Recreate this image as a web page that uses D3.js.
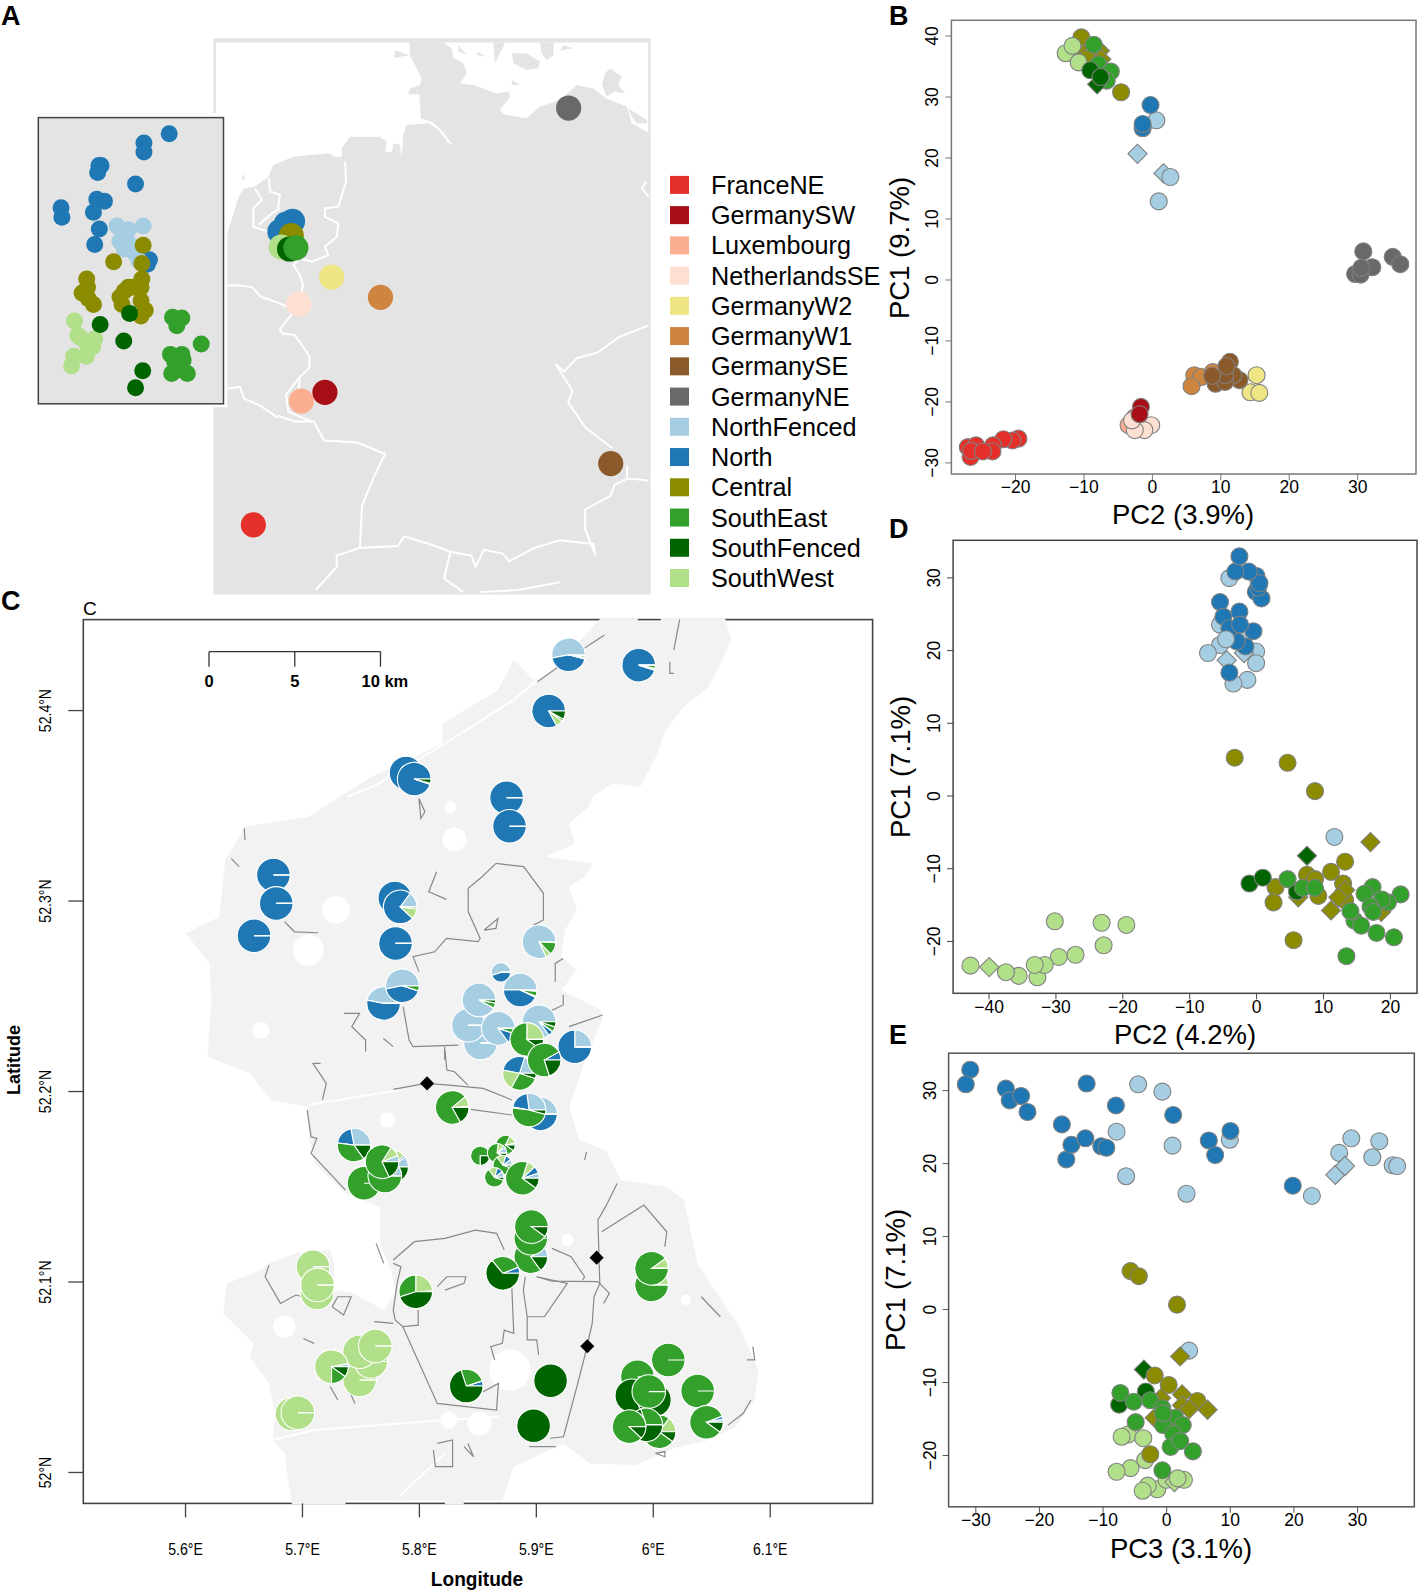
<!DOCTYPE html>
<html>
<head>
<meta charset="utf-8">
<script src="https://cdn.jsdelivr.net/npm/d3@7"></script>
<style>
  body { margin: 0; background: #fff; }
  text { font-family: "Liberation Sans", Arial, sans-serif; fill: #000; }
</style>
</head>
<body>
<svg id="fig" width="1418" height="1593"></svg>
<script>
const groups = ['FranceNE', 'GermanySW', 'Luxembourg', 'NetherlandsSE', 'GermanyW2', 'GermanyW1', 'GermanySE', 'GermanyNE', 'NorthFenced', 'North', 'Central', 'SouthEast', 'SouthFenced', 'SouthWest'];
const groupColors = ['#e5302a', '#a50f15', '#fcae91', '#fee0d2', '#eee685', '#cd853f', '#8b5a2b', '#696969', '#a6cee3', '#1f78b4', '#8b8b00', '#33a02c', '#006400', '#b2df8a'];

// PCA panels: [group, x, y], a 4th item 'd' means diamond
const pcaB = [
  ['FranceNE', -19.5, -26.1], ['FranceNE', -20.4, -26.4], ['FranceNE', -21.7, -26.2], ['FranceNE', -23.2, -27.2], ['FranceNE', -23.3, -28.2], ['FranceNE', -26.9, -27.5], ['FranceNE', -25.7, -27.2], ['FranceNE', -26.5, -29.1], ['FranceNE', -26.4, -28.1], ['FranceNE', -24.7, -28.2],
  ['Luxembourg', -3.4, -23.9], ['Luxembourg', -2.5, -22.6],
  ['NetherlandsSE', -0.1, -23.9], ['NetherlandsSE', -1.1, -24.7], ['NetherlandsSE', -2.5, -24.7], ['NetherlandsSE', -2.9, -23.1],
  ['GermanySW', -1.6, -20.9], ['GermanySW', -1.8, -22.1],
  ['GermanyW2', 15.3, -15.7], ['GermanyW2', 14.4, -18.5], ['GermanyW2', 15.7, -18.6],
  ['GermanyW1', 6.2, -15.7], ['GermanyW1', 7.2, -16], ['GermanyW1', 5.8, -17.5], ['GermanyW1', 8.9, -15.2],
  ['GermanySE', 11.4, -13.5], ['GermanySE', 12.8, -16.5], ['GermanySE', 11.9, -15.7], ['GermanySE', 9.3, -17.1], ['GermanySE', 10.7, -16.8], ['GermanySE', 10.7, -15.7], ['GermanySE', 8.8, -15.8], ['GermanySE', 10.9, -14.2],
  ['GermanyNE', 30.9, 4.6], ['GermanyNE', 32.2, 2], ['GermanyNE', 29.7, 0.9], ['GermanyNE', 30.5, 0.8], ['GermanyNE', 30.6, 1.9], ['GermanyNE', 35.2, 3.7], ['GermanyNE', 36.3, 2.5],
  ['NorthFenced', 0.65, 26.1], ['NorthFenced', 1, 12.8], ['NorthFenced', -2.1, 20.6, 'd'], ['NorthFenced', 1.7, 17.4, 'd'], ['NorthFenced', 2.7, 16.8],
  ['North', -0.2, 28.6], ['North', -1.35, 24.8], ['North', -1.35, 25.5],
  ['Central', -10.3, 39.7], ['Central', -4.5, 30.7], ['Central', -7.6, 37.5, 'd'], ['Central', -7.4, 36.1, 'd'], ['Central', -9.9, 37, 'd'], ['Central', -9.5, 36.2],
  ['SouthWest', -12.6, 37.1], ['SouthWest', -10.7, 35.6], ['SouthWest', -11.6, 38.3],
  ['SouthEast', -8.5, 38.5], ['SouthEast', -7.8, 35.3], ['SouthEast', -6, 34.1], ['SouthEast', -6.6, 32.6],
  ['SouthFenced', -8, 32, 'd'], ['SouthFenced', -9, 34.3], ['SouthFenced', -7.5, 33.2]
];
const pcaD = [
  ['NorthFenced', -4, 29.9], ['NorthFenced', -5.4, 23.5], ['NorthFenced', -1.6, 22.3], ['NorthFenced', -5.4, 20.7], ['NorthFenced', -7.2, 19.6], ['NorthFenced', 0, 19.8], ['NorthFenced', 0, 18.2], ['NorthFenced', -1.3, 15.9], ['NorthFenced', -3.4, 15.4], ['NorthFenced', 11.7, -5.7], ['NorthFenced', -4.4, 18.6, 'd'], ['NorthFenced', -1.8, 19.6, 'd'],
  ['North', 0.05, 30.2], ['North', -0.05, 28], ['North', 0.8, 27.1], ['North', 0.3, 28.6], ['North', 0.5, 29.2], ['North', -1.1, 30.8], ['North', -3.1, 30.8], ['North', -2.5, 32.9], ['North', -5.4, 26.6], ['North', -2.5, 25.3], ['North', -4.9, 24.6], ['North', -0.4, 22.6], ['North', -1.6, 20.5], ['North', -2.9, 21.2], ['North', -4, 23], ['North', -2.4, 23.5], ['North', -4, 16.9],
  ['NorthFenced', -4.5, 21.5],
  ['Central', -3.2, 5.2], ['Central', 4.7, 4.5], ['Central', 8.8, 0.6], ['Central', 17.1, -6.4, 'd'], ['Central', 13.3, -9.1], ['Central', 11.2, -10.5], ['Central', 7.6, -10.9], ['Central', 8.8, -11.5], ['Central', 13, -12.1], ['Central', 2.9, -12.6], ['Central', 2.6, -14.7], ['Central', 9.3, -13.8], ['Central', 13.3, -14.4], ['Central', 5.6, -19.9], ['Central', 13.3, -13, 'd'], ['Central', 12.3, -14, 'd'], ['Central', 11.2, -15.8, 'd'], ['Central', 6.3, -14, 'd'], ['Central', 18.7, -16, 'd'],
  ['SouthFenced', 7.6, -8.3, 'd'], ['SouthFenced', -1, -12.1], ['SouthFenced', 1, -11.3], ['SouthFenced', 6.1, -13.2],
  ['SouthEast', 4.7, -11.5], ['SouthEast', 7, -12.7], ['SouthEast', 8.8, -12.7], ['SouthEast', 17.4, -12.6], ['SouthEast', 21.6, -13.6], ['SouthEast', 19.7, -14.7], ['SouthEast', 16.2, -13.5], ['SouthEast', 18.8, -14.3], ['SouthEast', 17.1, -15.3], ['SouthEast', 17.5, -16], ['SouthEast', 14.7, -17.2], ['SouthEast', 14.1, -15.9], ['SouthEast', 15.7, -17.9], ['SouthEast', 18, -18.9], ['SouthEast', 20.6, -19.5], ['SouthEast', 13.5, -22.1],
  ['SouthWest', -30.1, -17.3], ['SouthWest', -23.1, -17.5], ['SouthWest', -19.4, -17.8], ['SouthWest', -22.8, -20.6], ['SouthWest', -27, -21.9], ['SouthWest', -29.5, -22.2], ['SouthWest', -32.7, -25], ['SouthWest', -31.6, -23.3], ['SouthWest', -33.1, -23.3], ['SouthWest', -42.7, -23.4], ['SouthWest', -39.9, -23.6, 'd'], ['SouthWest', -35.5, -24.8], ['SouthWest', -37.4, -24.3]
];
const pcaE = [
  ['North', -30.8, 32.8], ['North', -31.5, 30.8], ['North', -25.2, 30.2], ['North', -24.6, 28.6], ['North', -22.8, 29.2], ['North', -21.8, 27], ['North', -16.4, 25.3], ['North', -12.5, 30.9], ['North', -7.9, 27.9], ['North', 1.1, 26.6], ['North', -15.7, 20.5], ['North', -14.9, 22.5], ['North', -12.7, 23.4], ['North', -10.2, 22.3], ['North', -9.4, 22.1],
  ['NorthFenced', 10, 23.2],
  ['North', 6.7, 23.1], ['North', 7.7, 21.1], ['North', 10.1, 24.4], ['North', 19.9, 16.9],
  ['NorthFenced', -4.4, 30.8], ['NorthFenced', -0.6, 29.8], ['NorthFenced', -7.8, 24.3], ['NorthFenced', 1, 22.4], ['NorthFenced', -6.3, 18.2], ['NorthFenced', 3.2, 15.8], ['NorthFenced', 22.9, 15.5], ['NorthFenced', 27.2, 21.4], ['NorthFenced', 29.1, 23.4], ['NorthFenced', 33.5, 23], ['NorthFenced', 32.4, 20.8], ['NorthFenced', 35.6, 19.7], ['NorthFenced', 36.3, 19.6], ['NorthFenced', 3.6, -5.7], ['NorthFenced', 26.6, 18.4, 'd'], ['NorthFenced', 28.1, 19.6, 'd'],
  ['SouthFenced', -3.5, -8.3, 'd'],
  ['Central', -5.6, 5.2], ['Central', -4.3, 4.5], ['Central', 1.7, 0.6], ['Central', 2.2, -6.5, 'd'], ['Central', 2.5, -11.7, 'd'], ['Central', 4.9, -12.6], ['Central', 6.5, -13.8, 'd'], ['Central', 2.5, -13.2, 'd'], ['Central', 3.6, -13.7, 'd'], ['Central', -0.8, -12.2, 'd'], ['Central', -1.8, -14.9, 'd'], ['Central', -1.8, -9.1], ['Central', 0.4, -10.4],
  ['SouthFenced', -7.4, -13.1], ['SouthFenced', -3.2, -11.3],
  ['SouthWest', -6, -17.2], ['SouthWest', -7, -17.5], ['SouthWest', -3.6, -17.7], ['SouthWest', -3.3, -20.7], ['SouthWest', -5.6, -21.8], ['SouthWest', -7.8, -22.3], ['SouthWest', -1.4, -24.7], ['SouthWest', -2.9, -24.2], ['SouthWest', -3.7, -24.9], ['SouthWest', 0.05, -23.4], ['SouthWest', 2.8, -23.4], ['SouthWest', 1.3, -23.7, 'd'],
  ['SouthEast', -7.2, -11.5], ['SouthEast', -5.1, -12.7], ['SouthEast', -2.5, -12.5], ['SouthEast', -0.6, -13.6], ['SouthEast', 1.4, -14.9], ['SouthEast', -0.5, -15.9], ['SouthEast', 2.6, -15.9], ['SouthEast', -0.5, -14.3], ['SouthEast', -4.8, -15.5], ['SouthEast', 1.1, -17.1], ['SouthEast', 0.7, -18.9], ['SouthEast', 2.2, -18.1], ['SouthEast', 4.2, -19.5], ['SouthEast', -0.6, -22.1],
  ['SouthWest', 1.8, -23.2],
  ['Central', -2.5, -19.9]
];

// panel A (traced units)
const europeSites = [
  ['North', 665, 605], ['North', 680, 585], ['North', 695, 578], ['Central', 692, 615], ['SouthWest', 668, 645], ['SouthFenced', 688, 650], ['SouthEast', 703, 647],
  ['GermanyNE', 1351, 282], ['GermanyW2', 788, 723], ['GermanyW1', 904, 776], ['NetherlandsSE', 710, 794], ['GermanySW', 772, 1024], ['Luxembourg', 716, 1047], ['FranceNE', 602, 1370], ['GermanySE', 1451, 1210]
];
const insetSites = [
  ['North', 402, 349], ['North', 342, 373], ['North', 342, 397], ['North', 235, 432], ['North', 240, 432], ['North', 232, 450], ['North', 322, 480], ['North', 230, 520], ['North', 248, 525], ['North', 222, 554], ['North', 145, 542], ['North', 147, 567], ['North', 236, 598], ['North', 225, 638], ['North', 355, 678], ['North', 350, 690],
  ['NorthFenced', 278, 590], ['NorthFenced', 340, 590], ['NorthFenced', 300, 610], ['NorthFenced', 285, 630], ['NorthFenced', 310, 640], ['NorthFenced', 295, 650], ['NorthFenced', 320, 660], ['NorthFenced', 330, 680], ['NorthFenced', 305, 600],
  ['Central', 340, 640], ['Central', 270, 683], ['Central', 337, 688], ['Central', 337, 728], ['Central', 206, 728], ['Central', 208, 750], ['Central', 195, 765], ['Central', 210, 780], ['Central', 222, 795], ['Central', 335, 750], ['Central', 305, 750], ['Central', 285, 775], ['Central', 290, 795], ['Central', 315, 750], ['Central', 335, 785], ['Central', 345, 810], ['Central', 335, 825], ['Central', 295, 760],
  ['SouthWest', 177, 838], ['SouthWest', 185, 875], ['SouthWest', 225, 885], ['SouthWest', 205, 895], ['SouthWest', 220, 905], ['SouthWest', 205, 930], ['SouthWest', 175, 930], ['SouthWest', 170, 955], ['SouthWest', 190, 880],
  ['SouthEast', 410, 828], ['SouthEast', 432, 830], ['SouthEast', 420, 850], ['SouthEast', 478, 898], ['SouthEast', 405, 925], ['SouthEast', 432, 925], ['SouthEast', 415, 945], ['SouthEast', 408, 975], ['SouthEast', 445, 975], ['SouthEast', 425, 965], ['SouthEast', 435, 940],
  ['SouthFenced', 308, 818], ['SouthFenced', 238, 847], ['SouthFenced', 294, 890], ['SouthFenced', 339, 968], ['SouthFenced', 322, 1012]
];
const seaNorth = [[513, 111], [973, 111], [974, 144], [1002, 205], [998, 222], [973, 232], [970, 246], [996, 246], [1000, 309], [1026, 318], [1045, 335], [1073, 374], [1087, 379], [1065, 374], [1042, 339], [1018, 322], [966, 326], [958, 352], [954, 413], [950, 378], [935, 374], [931, 396], [915, 396], [919, 370], [903, 357], [832, 357], [812, 387], [812, 409], [796, 409], [780, 400], [697, 409], [649, 431], [638, 461], [606, 487], [578, 492], [566, 518], [539, 613], [513, 613]];
const seaBaltic = [[1053, 111], [1540, 111], [1540, 346], [1501, 322], [1489, 278], [1441, 257], [1410, 231], [1370, 222], [1331, 261], [1283, 278], [1251, 309], [1196, 298], [1188, 287], [1212, 252], [1208, 239], [1180, 244], [1125, 222], [1093, 218], [1109, 191], [1101, 165], [1077, 151], [1073, 126]];
const seaIslands = [
  [[1216, 139], [1251, 139], [1283, 161], [1279, 178], [1251, 183], [1220, 165]],
  [[1283, 111], [1315, 111], [1315, 144], [1299, 157], [1287, 139]],
  [[1172, 111], [1200, 111], [1176, 165]],
  [[1089, 118], [1109, 142], [1089, 135]],
  [[1133, 135], [1156, 148], [1133, 144]],
  [[1331, 131], [1362, 126], [1339, 118]],
  [[1449, 178], [1477, 200], [1469, 222], [1485, 244], [1461, 239], [1441, 252], [1430, 222], [1438, 191]],
  [[1493, 283], [1537, 313], [1537, 322], [1513, 322], [1501, 305]],
  [[1216, 209], [1236, 222], [1216, 222]],
  [[939, 131], [973, 144], [936, 151]],
  [[574, 465], [585, 452], [578, 472]]
];
const borders = [
  [[820, 422], [822, 474], [804, 539], [772, 544], [772, 566], [804, 583], [800, 618], [772, 644], [780, 666], [741, 683], [713, 674], [697, 692], [713, 718], [720, 745], [715, 770], [700, 810], [665, 860], [670, 870], [700, 875], [720, 905], [735, 930], [735, 960], [712, 985], [710, 1020]],
  [[712, 985], [680, 1030], [685, 1075], [740, 1100]],
  [[660, 1085], [700, 1100], [745, 1100], [770, 1150], [850, 1155], [915, 1185], [890, 1240], [860, 1320], [855, 1430], [945, 1425], [960, 1400], [1020, 1420], [1070, 1440], [1120, 1450], [1130, 1480], [1150, 1435], [1195, 1445], [1210, 1465], [1270, 1430], [1330, 1410], [1410, 1420], [1415, 1450], [1390, 1380], [1390, 1330], [1450, 1295], [1460, 1265], [1490, 1250], [1510, 1250], [1540, 1255]],
  [[1455, 1170], [1390, 1115], [1350, 1050], [1360, 1020], [1320, 950], [1340, 970], [1370, 935], [1420, 920], [1470, 880], [1540, 850]],
  [[540, 745], [570, 745], [600, 750], [620, 775], [660, 790], [680, 800]],
  [[540, 1015], [570, 1010], [580, 1040], [620, 1060], [660, 1090]],
  [[855, 1430], [800, 1450], [800, 1480], [750, 1540]],
  [[1070, 1440], [1055, 1510], [1100, 1545]],
  [[1140, 1545], [1230, 1540], [1330, 1520]],
  [[1536, 474], [1525, 492], [1541, 513]],
  [[638, 465], [642, 500], [665, 509], [661, 544]],
  [[606, 492], [622, 522], [602, 544], [602, 592], [638, 605]],
  [[614, 587], [646, 557], [665, 544]],
  [[1490, 1215], [1490, 1250]]
];

// panel C pies: lon, lat, sample size, shares NorthFenced/North/SouthWest/SouthEast/SouthFenced
const pieClusters = ['NorthFenced', 'North', 'SouthWest', 'SouthEast', 'SouthFenced'];
const pieSites = [
  [5.928, 52.429, 3, [.53, .43, .01, .02, .01]], [5.988, 52.4236, 3, [0, .95, .02, .03, 0]], [5.911, 52.3995, 3, [0, .83, .07, .02, .08]],
  [5.789, 52.367, 3, [0, 1, 0, 0, 0]], [5.796, 52.3638, 3, [0, .95, 0, .01, .04]], [5.875, 52.354, 3, [0, 1, 0, 0, 0]], [5.8775, 52.339, 3, [0, 1, 0, 0, 0]],
  [5.6756, 52.3134, 3, [0, 1, 0, 0, 0]], [5.678, 52.2985, 3, [0, 1, 0, 0, 0]], [5.659, 52.2815, 3, [0, 1, 0, 0, 0]],
  [5.7794, 52.3013, 3, [0, 1, 0, 0, 0]], [5.784, 52.2967, 3, [.15, .73, .1, .02, 0]], [5.78, 52.2775, 3, [0, 1, 0, 0, 0]],
  [5.9028, 52.2784, 3, [.82, 0, .05, .12, .01]], [5.8702, 52.2623, 1, [.55, .45, 0, 0, 0]],
  [5.7698, 52.246, 3, [.47, .53, 0, 0, 0]], [5.7859, 52.2553, 3, [.53, .42, 0, .05, 0]],
  [5.8527, 52.2252, 3, [1, 0, 0, 0, 0]], [5.8423, 52.2345, 3, [1, 0, 0, 0, 0]], [5.8514, 52.2478, 3, [.92, 0, 0, .05, .03]], [5.8867, 52.253, 3, [.5, .43, .01, .05, .01]],
  [5.8679, 52.2329, 3, [.85, .1, 0, .05, 0]], [5.9028, 52.2364, 3, [.85, .05, 0, .05, .05]], [5.9333, 52.2232, 3, [.25, .75, 0, 0, 0]],
  [5.886, 52.2093, 3, [.2, .27, .2, .28, .05]], [5.8923, 52.2271, 3, [0, 0, .25, .65, .1]], [5.9072, 52.2163, 3, [0, .08, 0, .72, .2]],
  [5.8285, 52.1914, 3, [.01, 0, .1, .72, .17]], [5.904, 52.188, 3, [.5, .5, 0, 0, 0]], [5.8942, 52.19, 3, [.27, .2, .01, .48, .04]],
  [5.7445, 52.1716, 3, [.28, .2, 0, .37, .15]], [5.7531, 52.1516, 3, [0, 0, 0, 1, 0]], [5.7767, 52.1602, 3, [.1, .02, .1, .63, .15]], [5.7709, 52.1554, 3, [.1, .02, 0, .88, 0]], [5.7685, 52.1629, 3, [.06, 0, .1, .66, .18]],
  [5.8525, 52.166, 1, [0, 0, 0, .75, .25]], [5.8741, 52.1717, 1, [0, .03, .15, .72, .1]], [5.8668, 52.1674, 1, [.1, .03, .1, .7, .07]], [5.8717, 52.1611, 1, [.1, .1, .15, .6, .05]], [5.8645, 52.1547, 1, [.1, .1, .15, .6, .05]],
  [5.8885, 52.1542, 3, [.05, .07, .08, .7, .1]],
  [5.8957, 52.113, 3, [.1, 0, 0, .75, .15]], [5.8957, 52.1227, 3, [0, 0, 0, 1, 0]], [5.8962, 52.1288, 3, [0, 0, 0, .9, .1]],
  [5.8717, 52.1043, 3, [0, .06, 0, .3, .64]], [5.7973, 52.0946, 3, [.01, 0, .24, .3, .45]],
  [5.7094, 52.1078, 3, [0, 0, 1, 0, 0]], [5.713, 52.094, 3, [0, 0, 1, 0, 0]], [5.7133, 52.0982, 3, [0, 0, 1, 0, 0]],
  [5.999, 52.0982, 3, [0, 0, .1, .9, 0]], [5.999, 52.1069, 3, [0, 0, .1, .9, 0]],
  [6.0133, 52.0588, 3, [0, 0, 0, 1, 0]], [6.0384, 52.0425, 3, [0, 0, 0, 1, 0]], [6.046, 52.0261, 3, [.03, .03, 0, .84, .1]],
  [5.7493, 52.0483, 3, [0, 0, 1, 0, 0]], [5.7589, 52.058, 3, [0, 0, 1, 0, 0]], [5.7493, 52.0631, 3, [0, 0, 1, 0, 0]], [5.7627, 52.0661, 3, [0, 0, 1, 0, 0]], [5.7253, 52.0553, 3, [.03, 0, .72, .15, .1]],
  [5.6915, 52.0304, 3, [0, 0, 1, 0, 0]], [5.6965, 52.0311, 3, [0, 0, 1, 0, 0]],
  [5.8405, 52.0451, 3, [0, .05, 0, .25, .7]], [5.9126, 52.0479, 3, [0, 0, 0, 0, 1]], [5.8981, 52.0243, 3, [0, 0, 0, 0, 1]],
  [5.9869, 52.05, 3, [0, 0, 0, 1, 0]], [5.9821, 52.04, 3, [0, 0, 0, 0, 1]], [6.0014, 52.0378, 3, [0, 0, 0, 0, 1]], [5.9966, 52.0422, 3, [0, 0, 0, 1, 0]],
  [6.0055, 52.0211, 3, [0, 0, .15, .75, .1]], [5.9941, 52.0247, 3, [0, 0, 0, .3, .7]], [5.9798, 52.0238, 3, [0, 0, 0, .88, .12]]
];
const blackMarkers = [[5.807, 52.204], [5.952, 52.1125], [5.944, 52.066]];
const lonTicks = [5.6, 5.7, 5.8, 5.9, 6, 6.1];
const latTicks = [52, 52.1, 52.2, 52.3, 52.4];
const scaleBarKm = [0, 5, 10];

const landOutline = [
  [5.9555, 52.4482], [5.9873, 52.4482], [5.9873, 52.4462], [6.0069, 52.4462], [6.0069, 52.4482], [6.0619, 52.4482], [6.067, 52.4368], [6.0569, 52.4228], [6.0467, 52.4114], [6.0264, 52.4018], [6.0095, 52.3878], [6.0028, 52.3755], [5.9893, 52.3598], [5.9656, 52.3615], [5.9487, 52.3545], [5.9453, 52.3493], [5.9284, 52.3405], [5.9335, 52.33], [5.9081, 52.323], [5.9487, 52.3195], [5.942, 52.3125], [5.9284, 52.3073], [5.9352, 52.295], [5.925, 52.2845], [5.9217, 52.2705], [5.9352, 52.2635], [5.9217, 52.253], [5.9555, 52.2425], [5.9572, 52.2382],
  [5.9433, 52.218], [5.9286, 52.1918], [5.9368, 52.1743], [5.9596, 52.169], [5.9727, 52.1533], [6.012, 52.1498], [6.0267, 52.1428], [6.0382, 52.1095], [6.0741, 52.0763], [6.0905, 52.0535], [6.0872, 52.0378], [6.0709, 52.0238], [6.048, 52.0168], [6.0185, 52.0124], [5.9858, 52.0037], [5.9466, 52.0045], [5.9237, 52.015], [5.8811, 52.0028], [5.8713, 51.985], [5.8384, 51.985], [5.8384, 51.983], [5.8223, 51.983], [5.8223, 51.985], [5.7372, 51.985], [5.7372, 51.983], [5.6914, 51.983],
  [5.6849, 52.0098], [5.675, 52.0168], [5.6767, 52.0308], [5.6718, 52.0465], [5.6554, 52.0605], [5.6587, 52.0675], [5.6325, 52.0833], [5.6358, 52.099], [5.6652, 52.106], [5.6718, 52.1095], [5.6947, 52.1148], [5.7241, 52.1165], [5.7274, 52.1095], [5.7274, 52.0955], [5.7437, 52.0938], [5.7699, 52.085], [5.7797, 52.0938], [5.7765, 52.106], [5.7666, 52.12], [5.7666, 52.1393], [5.7372, 52.1463], [5.711, 52.162], [5.7061, 52.176], [5.7045, 52.1918], [5.6734, 52.1953], [5.6554, 52.2093],
  [5.6192, 52.218], [5.6226, 52.2478], [5.6209, 52.267], [5.6006, 52.2828], [5.6293, 52.2915], [5.6344, 52.3213], [5.6513, 52.3388], [5.7054, 52.344], [5.7595, 52.365], [5.8203, 52.3825], [5.8203, 52.393], [5.8676, 52.4105], [5.8811, 52.4263], [5.898, 52.4158], [5.915, 52.421]
];
// gaps in the land layer: lon, lat, radius in km
const landGaps = [[5.8779, 52.0535, 1.2], [5.8517, 52.0255, .7], [5.8255, 52.0273, .5], [5.927, 52.1218, .35], [5.7732, 52.1848, .45], [5.6849, 52.0763, .65], [6.0283, 52.0903, .3], [5.8304, 52.332, .7], [5.729, 52.295, .8], [5.7054, 52.274, .9], [5.8271, 52.349, .35], [5.6648, 52.232, .5]];
const landTracks = [
  [[5.7045, 52.1926], [5.783, 52.2005]],
  [[5.675, 52.0168], [5.711, 52.022], [5.8223, 52.0273], [5.868, 52.029]],
  [[5.783, 51.987], [5.8223, 52.0098]],
  [[5.7392, 52.3545], [5.7662, 52.3615], [5.827, 52.3843], [5.881, 52.4053], [5.908, 52.4193]]
];
const roads = [
  [[5.7781, 52.2009], [5.8059, 52.204], [5.8255, 52.2031], [5.855, 52.2014], [5.8795, 52.1953]],
  [[5.8223, 52.2215], [5.8239, 52.211], [5.8304, 52.2101], [5.8419, 52.2031]],
  [[5.8445, 52.1904], [5.8795, 52.1874]],
  [[5.7045, 52.19], [5.7078, 52.176], [5.7127, 52.1751], [5.7078, 52.1673], [5.7372, 52.148]],
  [[5.7781, 52.1113], [5.7961, 52.1209], [5.8223, 52.1226], [5.8484, 52.127], [5.8664, 52.1253], [5.873, 52.1165]],
  [[5.7781, 52.1095], [5.7846, 52.1078], [5.7814, 52.099], [5.7781, 52.085], [5.7797, 52.0798], [5.7863, 52.0763], [5.7994, 52.0771], [5.7994, 52.085]],
  [[5.7863, 52.0763], [5.8157, 52.036], [5.8664, 52.0325], [5.868, 52.0465], [5.855, 52.0421]],
  [[5.8795, 52.0964], [5.8811, 52.0728], [5.873, 52.0745], [5.8713, 52.0675], [5.8615, 52.0658], [5.8648, 52.0588]],
  [[5.891, 52.1025], [5.8893, 52.0955], [5.8926, 52.0815], [5.8926, 52.0693], [5.9008, 52.0693], [5.9024, 52.0614]],
  [[5.8926, 52.0815], [5.9073, 52.0815], [5.9269, 52.099], [5.9008, 52.1025]],
  [[5.9008, 52.1025], [5.9138, 52.1002], [5.9531, 52.0999]],
  [[5.9138, 52.1174], [5.9302, 52.113], [5.9417, 52.1025], [5.94, 52.1008]],
  [[5.9695, 52.1515], [5.9597, 52.1393], [5.9531, 52.1323], [5.9547, 52.099], [5.9498, 52.092], [5.9482, 52.078], [5.9417, 52.0605], [5.9351, 52.0448], [5.9237, 52.0185], [5.9122, 52.0177]],
  [[5.9564, 52.1261], [5.9924, 52.1401], [6.012, 52.1261], [6.0103, 52.1183]],
  [[5.9531, 52.0999], [5.9629, 52.0938], [5.958, 52.0885]],
  [[5.6718, 52.1086], [5.6685, 52.1025], [5.6816, 52.0885], [5.6947, 52.0929], [5.7012, 52.092]],
  [[5.7258, 52.0868], [5.7307, 52.092], [5.7421, 52.092], [5.7356, 52.0824], [5.7258, 52.0868]],
  [[5.7617, 52.0789], [5.7781, 52.078]],
  [[5.8157, 52.0973], [5.8239, 52.1025], [5.8402, 52.1025], [5.8386, 52.099], [5.8223, 52.0955]],
  [[6.0414, 52.092], [6.0578, 52.0815]],
  [[5.7634, 52.12], [5.7699, 52.1095]],
  [[5.7241, 52.0448], [5.7307, 52.0378]],
  [[5.7388, 52.0448], [5.7454, 52.036]],
  [[6.0856, 52.0658], [6.0872, 52.0588], [6.0807, 52.0588]],
  [[6.0839, 52.0378], [6.0774, 52.0308], [6.0643, 52.0246]],
  [[5.8124, 52.0115], [5.8141, 52.0028], [5.8288, 52.0028], [5.8288, 52.0168], [5.8157, 52.015]],
  [[5.8386, 52.0133], [5.8468, 52.008], [5.8419, 52.015]],
  [[5.8942, 52.0133], [5.9171, 52.0133]],
  [[6.0022, 52.0098], [6.0104, 52.0107], [6.0104, 52.008], [6.0022, 52.0098]],
  [[5.7012, 52.0701], [5.7104, 52.0675]],
  [[5.7159, 52.2145], [5.7094, 52.2145], [5.7208, 52.204], [5.7175, 52.1953]],
  [[5.9417, 52.1638], [5.9433, 52.1681]],
  [[6.023, 52.4476], [6.018, 52.4315]],
  [[6.0146, 52.4254], [6.0146, 52.4193], [6.018, 52.4193]],
  [[5.9588, 52.4394], [5.9453, 52.4341], [5.9014, 52.4149]],
  [[5.8, 52.3536], [5.8017, 52.3431], [5.8051, 52.3466], [5.8, 52.3536]],
  [[5.8152, 52.3151], [5.8084, 52.3046], [5.8236, 52.3006]],
  [[5.866, 52.3195], [5.854, 52.3125], [5.8422, 52.3064], [5.8422, 52.2941], [5.8524, 52.2801], [5.8507, 52.2784], [5.8236, 52.2801], [5.8135, 52.2731], [5.795, 52.2705], [5.8, 52.2627]],
  [[5.866, 52.3195], [5.8896, 52.3178], [5.9065, 52.3038], [5.9065, 52.2898], [5.898, 52.2871]],
  [[5.8558, 52.2845], [5.8676, 52.2906], [5.8659, 52.2854], [5.8558, 52.2845]],
  [[5.6851, 52.2889], [5.6936, 52.2836], [5.7138, 52.2831]],
  [[5.6506, 52.3379], [5.6513, 52.3318]],
  [[5.6395, 52.3221], [5.6462, 52.3178]],
  [[5.9234, 52.2696], [5.9166, 52.267], [5.9166, 52.2574]],
  [[5.9234, 52.2504], [5.9234, 52.2452], [5.9115, 52.2417]],
  [[5.9284, 52.2338], [5.9571, 52.2399]],
  [[5.7865, 52.2443], [5.7916, 52.2268], [5.795, 52.2233], [5.8338, 52.2241]],
  [[5.7358, 52.2408], [5.7493, 52.2408], [5.7426, 52.2338], [5.7544, 52.2268], [5.7544, 52.2207]],
  [[5.7696, 52.2276], [5.778, 52.2233]],
  [[5.822, 52.2233], [5.822, 52.2163]]
];

const color = d3.scaleOrdinal().domain(groups).range(groupColors);
const svg = d3.select('#fig');

// panel letters
[['A', 1, 25], ['B', 889, 25], ['C', 1, 610], ['D', 889, 538], ['E', 889, 1044]].forEach(l => {
  svg.append('text').attr('x', l[1]).attr('y', l[2]).attr('font-size', 27).attr('font-weight', 'bold').text(l[0]);
});

// ---- panel A ----
const mapX = d3.scaleLinear().domain([507, 1546]).range([213.4, 650.7]);
const mapY = d3.scaleLinear().domain([100, 1552]).range([38.3, 594.6]);
const mapLine = d3.line().x(d => mapX(d[0])).y(d => mapY(d[1])).curve(d3.curveLinear);
const panelA = svg.append('g');
panelA.append('rect').attr('x', mapX(507)).attr('y', mapY(100)).attr('width', mapX(1546) - mapX(507)).attr('height', mapY(1552) - mapY(100)).attr('fill', '#e4e4e4');
[seaNorth, seaBaltic].forEach(p => panelA.append('path').attr('d', mapLine(p) + 'Z').attr('fill', '#fff'));
seaIslands.forEach(p => panelA.append('path').attr('d', mapLine(p) + 'Z').attr('fill', '#e4e4e4'));
borders.forEach(p => panelA.append('path').attr('d', mapLine(p)).attr('fill', 'none').attr('stroke', '#fff').attr('stroke-width', 2));
panelA.selectAll('.site').data(europeSites).enter().append('circle')
  .attr('class', 'site')
  .attr('cx', d => mapX(d[1])).attr('cy', d => mapY(d[2])).attr('r', 12.6)
  .attr('fill', d => color(d[0]));
// inset with its white margin
panelA.append('rect').attr('x', mapX(507)).attr('y', mapY(295)).attr('width', mapX(540) - mapX(507)).attr('height', mapY(1063) - mapY(295)).attr('fill', '#fff');
panelA.append('rect').attr('x', mapX(91)).attr('y', mapY(307)).attr('width', mapX(531) - mapX(91)).attr('height', mapY(1054) - mapY(307))
  .attr('fill', '#e4e4e4').attr('stroke', '#444').attr('stroke-width', 1.5);
panelA.selectAll('.inset').data(insetSites).enter().append('circle')
  .attr('class', 'inset')
  .attr('cx', d => mapX(d[1])).attr('cy', d => mapY(d[2])).attr('r', 8.5)
  .attr('fill', d => color(d[0]));

// legend
const legendY = d3.scalePoint().domain(groups).range([184.9, 578]);
const legend = svg.append('g').selectAll('g').data(groups).enter().append('g')
  .attr('transform', d => `translate(670, ${legendY(d)})`);
legend.append('rect').attr('x', 0).attr('y', -9).attr('width', 19).attr('height', 18).attr('fill', d => color(d));
legend.append('text').attr('x', 41).attr('y', 9).attr('font-size', 25.2).text(d => d);

// ---- panel C ----
const lonScale = d3.scaleLinear().domain([5.513, 6.188]).range([83.3, 872.6]);
const latScale = d3.scaleLinear().domain([51.9835, 52.4475]).range([1503.4, 619.6]);
const kmScale = d3.scaleLinear().domain([0, 10]).range([209, 380.5]);
const geoLine = d3.line().x(d => lonScale(d[0])).y(d => latScale(d[1]));
const panelC = svg.append('g');
panelC.append('rect').attr('x', 83.3).attr('y', 619.6).attr('width', 789.3).attr('height', 883.8)
  .attr('fill', 'none').attr('stroke', '#444').attr('stroke-width', 1.6);
panelC.append('path').attr('d', geoLine(landOutline) + 'Z').attr('fill', '#f2f2f2');
panelC.selectAll('.gap').data(landGaps).enter().append('circle')
  .attr('class', 'gap')
  .attr('cx', d => lonScale(d[0])).attr('cy', d => latScale(d[1])).attr('r', d => kmScale(d[2]) - kmScale(0))
  .attr('fill', '#fff');
landTracks.forEach(r => panelC.append('path').attr('d', geoLine(r)).attr('fill', 'none').attr('stroke', '#fff').attr('stroke-width', 2));
roads.forEach(r => panelC.append('path').attr('d', geoLine(r)).attr('fill', 'none').attr('stroke', '#888').attr('stroke-width', 1.2));

const pie = d3.pie().sort(null).value(d => d).startAngle(Math.PI / 2).endAngle(Math.PI / 2 - 2 * Math.PI);
const pieRadius = d3.scaleSqrt().domain([0, 3]).range([0, 16.8]);
const sliceColor = d3.scaleOrdinal().domain(d3.range(pieClusters.length)).range(pieClusters.map(c => color(c)));
const pies = panelC.selectAll('.pie').data(pieSites).enter().append('g')
  .attr('class', 'pie')
  .attr('transform', d => `translate(${lonScale(d[0])}, ${latScale(d[1])})`);
pies.each(function(d) {
  const arc = d3.arc().innerRadius(0).outerRadius(pieRadius(d[2]));
  d3.select(this).selectAll('path').data(pie(d[3])).enter().append('path')
    .attr('d', arc)
    .attr('fill', (s, i) => sliceColor(i))
    .attr('stroke', '#fff')
    .attr('stroke-width', 1.1);
});
panelC.selectAll('.marker').data(blackMarkers).enter().append('path')
  .attr('class', 'marker')
  .attr('transform', d => `translate(${lonScale(d[0])}, ${latScale(d[1])}) rotate(45)`)
  .attr('d', d3.symbol().type(d3.symbolSquare).size(100))
  .attr('fill', '#000');

// scale bar
const bar = panelC.append('g').attr('class', 'scalebar');
bar.append('line').attr('x1', kmScale(0)).attr('x2', kmScale(10)).attr('y1', 651.7).attr('y2', 651.7).attr('stroke', '#333').attr('stroke-width', 1.3);
scaleBarKm.forEach(k => {
  bar.append('line').attr('x1', kmScale(k)).attr('x2', kmScale(k)).attr('y1', 651.7).attr('y2', 666.7).attr('stroke', '#333').attr('stroke-width', 1.3);
  bar.append('text').attr('x', kmScale(k)).attr('y', 687).attr('text-anchor', k === 10 ? 'start' : 'middle')
    .attr('dx', k === 10 ? -19 : 0).attr('font-size', 16.5).attr('font-weight', 'bold').attr('fill', '#222').text(k === 10 ? '10 km' : k);
});

// lon/lat axes
const lonAxis = panelC.append('g').attr('transform', 'translate(0, 1503.4)')
  .call(d3.axisBottom(lonScale).tickValues(lonTicks).tickSize(14).tickFormat(d => d + '°E'));
const latAxis = panelC.append('g').attr('transform', 'translate(83.3, 0)')
  .call(d3.axisLeft(latScale).tickValues(latTicks).tickSize(15).tickFormat(d => d + '°N'));
lonAxis.select('.domain').remove();
latAxis.select('.domain').remove();
lonAxis.selectAll('line').attr('stroke', '#444').attr('stroke-width', 1.3);
latAxis.selectAll('line').attr('stroke', '#444').attr('stroke-width', 1.3);
lonAxis.selectAll('text').attr('font-size', 17).attr('fill', '#222').attr('y', 52).attr('dy', 0)
  .attr('transform', 'scale(0.83, 1)');
latAxis.selectAll('text').attr('font-size', 17).attr('fill', '#222')
  .attr('transform', 'rotate(-90) scale(0.83, 1)').attr('x', 0).attr('y', -32).attr('dy', 0).attr('text-anchor', 'middle');
svg.append('text').attr('transform', 'translate(477, 1586) scale(0.91, 1)').attr('text-anchor', 'middle').attr('font-size', 21).attr('font-weight', 'bold').text('Longitude');
svg.append('text').attr('transform', 'translate(20, 1060) rotate(-90)').attr('text-anchor', 'middle').attr('font-size', 18).attr('font-weight', 'bold').text('Latitude');
svg.append('text').attr('x', 83).attr('y', 615).attr('font-size', 19).attr('fill', '#222').text('C');

// ---- PCA panels ----
function drawPca(box, xDomain, yDomain, xTicks, yTicks, points, xLabel, yLabel, labelPos, frame) {
  const x = d3.scaleLinear().domain(xDomain).range([box.x0, box.x1]);
  const y = d3.scaleLinear().domain(yDomain).range([box.y1, box.y0]);
  const g = svg.append('g');
  const diamond = d3.symbol().type(d3.symbolSquare).size(185);

  g.append('rect').attr('x', box.x0).attr('y', box.y0).attr('width', box.x1 - box.x0).attr('height', box.y1 - box.y0)
    .attr('fill', 'none').attr('stroke', frame).attr('stroke-width', 1.5);

  const xAxis = g.append('g').attr('transform', `translate(0, ${box.y1})`)
    .call(d3.axisBottom(x).tickValues(xTicks).tickSize(6).tickFormat(d3.format('d')));
  const yAxis = g.append('g').attr('transform', `translate(${box.x0}, 0)`)
    .call(d3.axisLeft(y).tickValues(yTicks).tickSize(6).tickFormat(d3.format('d')));
  xAxis.select('.domain').remove();
  yAxis.select('.domain').remove();
  xAxis.selectAll('line').attr('stroke', frame);
  yAxis.selectAll('line').attr('stroke', frame);
  xAxis.selectAll('text').attr('font-size', 17.5).attr('y', 7).attr('dy', '0.71em');
  yAxis.selectAll('text').attr('font-size', 17.5)
    .attr('transform', 'rotate(-90)').attr('x', 0).attr('y', -13).attr('dy', 0).attr('text-anchor', 'middle');

  points.forEach(p => {
    if (p[3] === 'd') {
      g.append('path').attr('d', diamond)
        .attr('transform', `translate(${x(p[1])}, ${y(p[2])}) rotate(45)`)
        .attr('fill', color(p[0])).attr('stroke', '#808080').attr('stroke-width', 1.1);
    } else {
      g.append('circle').attr('cx', x(p[1])).attr('cy', y(p[2])).attr('r', 8.5)
        .attr('fill', color(p[0])).attr('stroke', '#808080').attr('stroke-width', 1.1);
    }
  });

  g.append('text').attr('x', labelPos.xx).attr('y', labelPos.xy).attr('text-anchor', 'middle').attr('font-size', 27.5).text(xLabel);
  g.append('text').attr('transform', `translate(${labelPos.yx}, ${labelPos.yy}) rotate(-90)`).attr('text-anchor', 'middle').attr('font-size', 27.5).text(yLabel);
}

drawPca({ x0: 951.4, x1: 1416, y0: 20.3, y1: 474 }, [-29.3, 38.6], [-31.9, 42.5],
  [-20, -10, 0, 10, 20, 30], [-30, -20, -10, 0, 10, 20, 30, 40], pcaB, 'PC2 (3.9%)', 'PC1 (9.7%)',
  { xx: 1183, xy: 524, yx: 909, yy: 248 }, '#777');
drawPca({ x0: 953.1, x1: 1417, y0: 540.3, y1: 993.3 }, [-45.3, 24.05], [-27.2, 35.1],
  [-40, -30, -20, -10, 0, 10, 20], [-20, -10, 0, 10, 20, 30], pcaD, 'PC2 (4.2%)', 'PC1 (7.1%)',
  { xx: 1185, xy: 1044, yx: 910, yy: 767 }, '#444');
drawPca({ x0: 948.6, x1: 1414.3, y0: 1053.2, y1: 1506.8 }, [-34.2, 39], [-27.1, 35.06],
  [-30, -20, -10, 0, 10, 20, 30], [-20, -10, 0, 10, 20, 30], pcaE, 'PC3 (3.1%)', 'PC1 (7.1%)',
  { xx: 1181, xy: 1558, yx: 905, yy: 1280 }, '#555');
</script>
</body>
</html>
